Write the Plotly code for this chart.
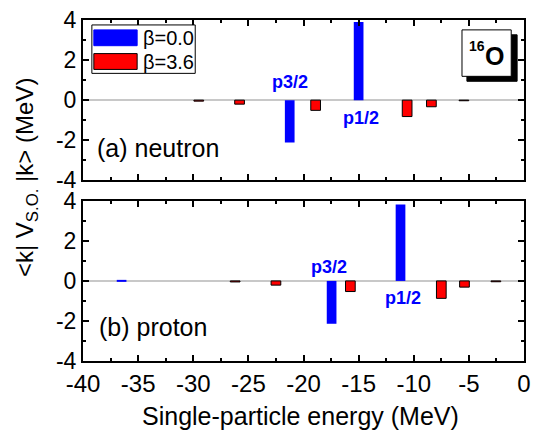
import plotly.graph_objects as go

# ---- data ----
n_e_b0 = [-21.25, -15.0]
n_v_b0 = [-2.12, 3.9]
n_e_b36 = [-29.5, -25.8, -18.9, -10.6, -8.4, -5.45]
n_v_b36 = [-0.05, -0.2, -0.51, -0.82, -0.33, -0.03]

p_e_b0 = [-36.5, -17.45, -11.2]
p_v_b0 = [0.03, -2.14, 3.82]
p_e_b36 = [-26.2, -22.5, -15.75, -7.5, -5.4, -2.55]
p_v_b36 = [-0.05, -0.21, -0.53, -0.87, -0.31, -0.04]

x_ticks = [-40, -35, -30, -25, -20, -15, -10, -5, 0]
x_ticktext = ["-40", "-35", "-30", "-25", "-20", "-15", "-10", "-5", "0"]
y_ticks = [-4, -2, 0, 2, 4]
y_ticktext = ["-4", "-2", "0", "2", "4"]

BLUE = "#0000ff"
RED = "#ff0000"
FONT = "Liberation Sans, Arial, sans-serif"

fig = go.Figure()
bw = 0.88
fig.add_trace(go.Bar(x=n_e_b0, y=n_v_b0, width=bw, marker=dict(color=BLUE, line=dict(width=0)),
                     xaxis="x2", yaxis="y2", name="β=0.0", showlegend=False))
fig.add_trace(go.Bar(x=n_e_b36, y=n_v_b36, width=bw, marker=dict(color=RED, line=dict(width=1, color="black")),
                     xaxis="x2", yaxis="y2", name="β=3.6", showlegend=False))
fig.add_trace(go.Bar(x=p_e_b0, y=p_v_b0, width=bw, marker=dict(color=BLUE, line=dict(width=0)),
                     xaxis="x", yaxis="y", showlegend=False))
fig.add_trace(go.Bar(x=p_e_b36, y=p_v_b36, width=bw, marker=dict(color=RED, line=dict(width=1, color="black")),
                     xaxis="x", yaxis="y", showlegend=False))

common_x = dict(range=[-40, 0], tickvals=x_ticks, ticktext=x_ticktext, ticks="inside", ticklen=6, tickwidth=1.5,
                tickcolor="black", showline=True, linecolor="black", linewidth=2, mirror="ticks",
                showgrid=False, zeroline=False,
                minor=dict(dtick=2.5, tick0=0, ticks="inside", ticklen=3, tickwidth=1.5, tickcolor="black"),
                tickfont=dict(family=FONT, size=24, color="black"))
common_y = dict(range=[-4, 4], tickvals=y_ticks, ticktext=y_ticktext, ticks="inside", ticklen=6, tickwidth=1.5,
                tickcolor="black", showline=True, linecolor="black", linewidth=2, mirror="ticks",
                showgrid=False, zeroline=True, zerolinecolor="#c8c8c8", zerolinewidth=1.5,
                minor=dict(dtick=1, tick0=0, ticks="inside", ticklen=3, tickwidth=1.5, tickcolor="black"),
                tickfont=dict(family=FONT, size=23, color="black"))

fig.update_layout(
    width=538, height=435,
    margin=dict(l=83, r=7, t=16, b=74),
    paper_bgcolor="white", plot_bgcolor="white",
    barmode="overlay",
    xaxis=dict(common_x, anchor="y", domain=[0, 1]),
    yaxis=dict(common_y, anchor="x", domain=[0, 0.4696]),
    xaxis2=dict(common_x, anchor="y2", domain=[0, 1], showticklabels=False, matches="x"),
    yaxis2=dict(common_y, anchor="x2", domain=[0.530, 1]),
    font=dict(family=FONT, color="black"),
)

def px2paper_x(px):
    return (px - 83) / 448.0

def px2paper_y(py):
    return (361 - py) / 345.0

def pann(px, py, text, size, **kw):
    d = dict(x=px2paper_x(px), y=px2paper_y(py), xref="paper", yref="paper", text=text,
             showarrow=False, xanchor=kw.pop("xanchor", "center"), yanchor="middle",
             font=dict(family=FONT, size=size, color=kw.pop("color", "black")))
    d.update(kw)
    return d

ann = []
lab = dict(family=FONT, size=18, color=BLUE)
ann.append(dict(x=-21.25, y=0.9, xref="x2", yref="y2", text="<b>p3/2</b>", showarrow=False, font=lab))
ann.append(dict(x=-14.75, y=-0.89, xref="x2", yref="y2", text="<b>p1/2</b>", showarrow=False, font=lab))
ann.append(dict(x=-17.7, y=0.72, xref="x", yref="y", text="<b>p3/2</b>", showarrow=False, font=lab))
ann.append(dict(x=-11.0, y=-0.84, xref="x", yref="y", text="<b>p1/2</b>", showarrow=False, font=lab))
ann.append(dict(x=-38.9, y=-2.4, xref="x2", yref="y2", text="(a) neutron", showarrow=False,
                xanchor="left", yanchor="middle", font=dict(family=FONT, size=25, color="black")))
ann.append(dict(x=-38.7, y=-2.28, xref="x", yref="y", text="(b) proton", showarrow=False,
                xanchor="left", yanchor="middle", font=dict(family=FONT, size=25, color="black")))
# axis titles
ann.append(pann(25, 175, "&lt;k| V<sub>S.O.</sub> |k&gt; (MeV)", 24, textangle=-90))
ann.append(pann(304, 417, "Single-particle energy (MeV)", 25))

shapes = []
# legend (manual)
shapes.append(dict(type="rect", xref="paper", yref="paper", x0=px2paper_x(92), x1=px2paper_x(197),
                   y0=px2paper_y(70), y1=px2paper_y(21), line=dict(color="black", width=1), fillcolor="white", layer="above"))
shapes.append(dict(type="rect", xref="paper", yref="paper", x0=px2paper_x(94), x1=px2paper_x(138),
                   y0=px2paper_y(42), y1=px2paper_y(26), line=dict(color=BLUE, width=1), fillcolor=BLUE, layer="above"))
shapes.append(dict(type="rect", xref="paper", yref="paper", x0=px2paper_x(94), x1=px2paper_x(138),
                   y0=px2paper_y(66), y1=px2paper_y(50), line=dict(color="black", width=1), fillcolor=RED, layer="above"))
ann.append(pann(142, 34, "β=0.0", 20, xanchor="left"))
ann.append(pann(142, 58, "β=3.6", 20, xanchor="left"))

# 16O box with shadow
shapes.append(dict(type="rect", xref="paper", yref="paper", x0=px2paper_x(473), x1=px2paper_x(524),
                   y0=px2paper_y(78), y1=px2paper_y(31), line=dict(color="black", width=1), fillcolor="black", layer="above"))
shapes.append(dict(type="rect", xref="paper", yref="paper", x0=px2paper_x(468), x1=px2paper_x(518),
                   y0=px2paper_y(73), y1=px2paper_y(26), line=dict(color="black", width=1), fillcolor="white", layer="above"))
ann.append(pann(483, 42, "<b>16</b>", 14))
ann.append(pann(501, 52, "<b>O</b>", 25))

fig.update_layout(annotations=ann, shapes=shapes)
fig.write_html("out.html")
